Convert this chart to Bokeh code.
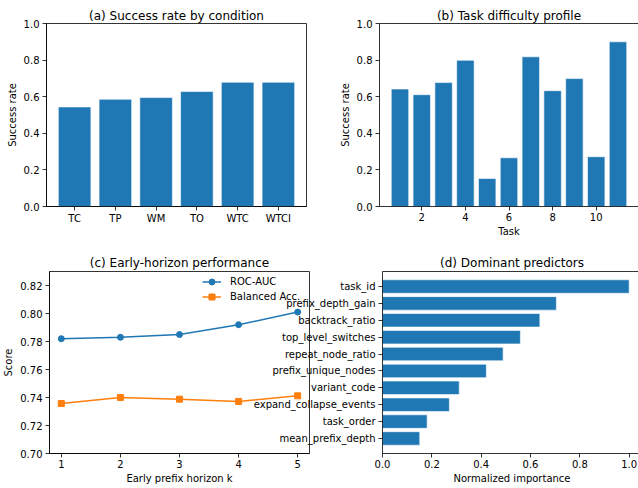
from bokeh.plotting import figure
from bokeh.layouts import column, row
from bokeh.models import (FactorRange, Range1d, PrintfTickFormatter, FixedTicker,
                          Legend, LegendItem, LinearAxis)
from bokeh.embed import file_html
from bokeh.resources import INLINE

conditions = ["TC", "TP", "WM", "TO", "WTC", "WTCI"]
condition_rate = [0.544, 0.586, 0.595, 0.628, 0.679, 0.679]

tasks = [1, 2, 3, 4, 5, 6, 7, 8, 9, 10, 11]
task_rate = [0.642, 0.611, 0.677, 0.799, 0.153, 0.266, 0.818, 0.633, 0.699, 0.272, 0.900]

horizons = [1, 2, 3, 4, 5]
roc_auc = [0.782, 0.783, 0.785, 0.792, 0.801]
balanced_acc = [0.7357, 0.7400, 0.7388, 0.7372, 0.7412]

features = ["task_id", "prefix_depth_gain", "backtrack_ratio", "top_level_switches",
            "repeat_node_ratio", "prefix_unique_nodes", "variant_code",
            "expand_collapse_events", "task_order", "mean_prefix_depth"]
importance = [1.0, 0.705, 0.638, 0.559, 0.489, 0.421, 0.311, 0.271, 0.181, 0.151]

FONT = "DejaVu Sans"
BLUE = "#1f77b4"
ORANGE = "#ff7f0e"


def style(p, title_standoff):
    p.title.text_font = FONT
    p.title.text_font_size = "12px"
    p.title.text_font_style = "normal"
    p.title.text_color = "black"
    p.title.align = "center"
    p.title.standoff = title_standoff
    p.outline_line_color = "black"
    p.outline_line_width = 0.8
    p.xgrid.visible = False
    p.ygrid.visible = False
    p.border_fill_color = None
    for ax in p.axis:
        ax.axis_line_color = "black"
        ax.axis_line_width = 0.8
        ax.major_tick_line_color = "black"
        ax.major_tick_line_width = 0.8
        ax.major_tick_out = 4
        ax.major_tick_in = 0
        ax.minor_tick_line_color = None
        ax.major_label_text_font = FONT
        ax.major_label_text_font_size = "10px"
        ax.major_label_text_color = "black"
        ax.axis_label_text_font = FONT
        ax.axis_label_text_font_size = "10px"
        ax.axis_label_text_font_style = "normal"
        ax.axis_label_text_color = "black"
    for ax in p.xaxis:
        ax.major_label_standoff = 2
        ax.axis_label_standoff = 2
    for ax in p.yaxis:
        ax.major_label_standoff = 3
        ax.axis_label_standoff = 3


def top_spine_only(p):
    # right spine falls just outside the picture in the reference
    p.outline_line_color = None
    top = LinearAxis(ticker=FixedTicker(ticks=[]), major_tick_out=0, major_tick_in=0,
                     minor_tick_out=0, minor_tick_in=0, major_label_standoff=0,
                     axis_line_color="black", axis_line_width=0.8)
    p.add_layout(top, "above")


common = dict(output_backend="svg", toolbar_location=None)

# (a)
pa = figure(x_range=FactorRange(*conditions, range_padding=0.0633), y_range=Range1d(0, 1),
            frame_width=260, frame_height=183, min_border_left=46, min_border_right=24,
            min_border_top=23, min_border_bottom=38,
            title="(a) Success rate by condition", **common)
pa.vbar(x=conditions, top=condition_rate, width=0.8, fill_color=BLUE,
        line_color="white", line_width=0.6)
pa.yaxis.axis_label = "Success rate"
pa.yaxis.ticker = FixedTicker(ticks=[0, 0.2, 0.4, 0.6, 0.8, 1.0])
pa.yaxis.formatter = PrintfTickFormatter(format="%.1f")
style(pa, 2)

# (b)
pb = figure(x_range=Range1d(0.06, 11.94), y_range=Range1d(0, 1),
            frame_width=259, frame_height=183, min_border_left=49, min_border_right=0,
            min_border_top=23, min_border_bottom=38,
            title="(b) Task difficulty profile", **common)
pb.vbar(x=tasks, top=task_rate, width=0.8, fill_color=BLUE,
        line_color="white", line_width=0.6)
pb.yaxis.axis_label = "Success rate"
pb.xaxis.axis_label = "Task"
pb.xaxis.ticker = FixedTicker(ticks=[2, 4, 6, 8, 10])
pb.yaxis.ticker = FixedTicker(ticks=[0, 0.2, 0.4, 0.6, 0.8, 1.0])
pb.yaxis.formatter = PrintfTickFormatter(format="%.1f")
style(pb, 2)
top_spine_only(pb)

# (c)
pc = figure(x_range=Range1d(0.8, 5.2), y_range=Range1d(0.70, 0.83),
            frame_width=260, frame_height=182, min_border_left=46, min_border_right=24,
            min_border_top=27, min_border_bottom=35,
            title="(c) Early-horizon performance", **common)
l1 = pc.line(horizons, roc_auc, line_color=BLUE, line_width=1.5)
s1 = pc.scatter(horizons, roc_auc, marker="circle", size=6, fill_color=BLUE, line_color=BLUE)
l2 = pc.line(horizons, balanced_acc, line_color=ORANGE, line_width=1.5)
s2 = pc.scatter(horizons, balanced_acc, marker="square", size=6, fill_color=ORANGE, line_color=ORANGE)
pc.xaxis.axis_label = "Early prefix horizon k"
pc.yaxis.axis_label = "Score"
pc.xaxis.ticker = FixedTicker(ticks=horizons)
pc.yaxis.ticker = FixedTicker(ticks=[0.70, 0.72, 0.74, 0.76, 0.78, 0.80, 0.82])
pc.yaxis.formatter = PrintfTickFormatter(format="%.2f")
legend = Legend(items=[LegendItem(label="ROC-AUC", renderers=[l1, s1]),
                       LegendItem(label="Balanced Acc.", renderers=[l2, s2])],
                location=(153, 149), border_line_color=None, background_fill_alpha=0,
                padding=0, margin=0, spacing=0, glyph_height=15, label_height=15,
                glyph_width=19, label_standoff=9, label_text_font=FONT,
                label_text_font_size="10px", label_text_color="black")
pc.add_layout(legend)
style(pc, 4)

# (d)
pd_ = figure(y_range=FactorRange(*reversed(features), range_padding=0.078), x_range=Range1d(0, 1.05),
             frame_width=259, frame_height=182, min_border_left=150, min_border_right=0,
             min_border_top=27, min_border_bottom=35,
             title="(d) Dominant predictors", **common)
pd_.hbar(y=features, right=importance, left=0, height=0.8, fill_color=BLUE,
         line_color="white", line_width=0.6)
pd_.xaxis.axis_label = "Normalized importance"
pd_.xaxis.ticker = FixedTicker(ticks=[0, 0.2, 0.4, 0.6, 0.8, 1.0])
pd_.xaxis.formatter = PrintfTickFormatter(format="%.1f")
style(pd_, 4)
top_spine_only(pd_)
pd_.margin = (0, 0, 0, -101)

layout = column(row(pa, pb), row(pc, pd_))
open("out.html", "w").write(file_html(layout, INLINE))
